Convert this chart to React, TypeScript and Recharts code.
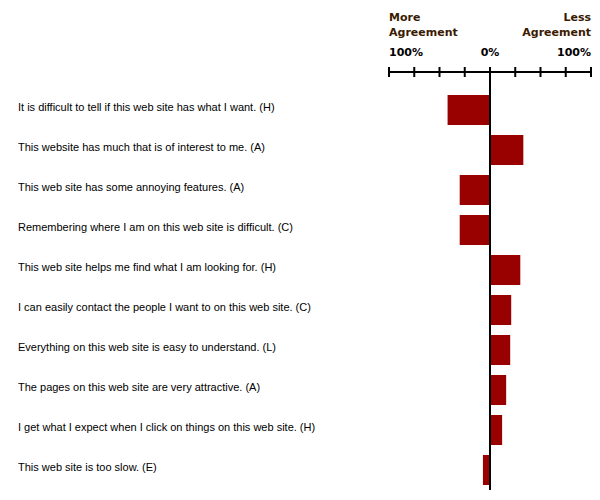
import { Bar, BarChart, ReferenceLine, XAxis, YAxis } from "recharts";

const statements = [
  "It is difficult to tell if this web site has what I want. (H)",
  "This website has much that is of interest to me. (A)",
  "This web site has some annoying features. (A)",
  "Remembering where I am on this web site is difficult. (C)",
  "This web site helps me find what I am looking for. (H)",
  "I can easily contact the people I want to on this web site. (C)",
  "Everything on this web site is easy to understand. (L)",
  "The pages on this web site are very attractive. (A)",
  "I get what I expect when I click on things on this web site. (H)",
  "This web site is too slow. (E)",
];

// negative = more agreement, positive = less agreement
const scores = [-42, 33, -30, -30, 30, 21, 20, 16, 12, -7];

const axisTicks = [-100, -75, -50, -25, 0, 25, 50, 75, 100];
const tickLabels: Record<number, string> = { [-100]: "100%", 0: "0%", 100: "100%" };

const data = statements.map((label, i) => ({ label, value: scores[i] }));

const boldFont = "'DejaVu Sans', sans-serif";

function TopTick(props: any) {
  const { x, y, payload } = props;
  const v = payload.value as number;
  const label = tickLabels[v];
  const anchor = v < 0 ? "start" : v > 0 ? "end" : "middle";
  return (
    <g>
      <line x1={x} x2={x} y1={y - 5} y2={y + 5} stroke="#000" strokeWidth={2} />
      {label && (
        <text x={x} y={y - 16} textAnchor={anchor} fontFamily={boldFont} fontWeight="bold" fontSize={11} fill="#000">
          {label}
        </text>
      )}
      {v === -100 && (
        <text x={x} textAnchor="start" fontFamily={boldFont} fontWeight="bold" fontSize={11} fill="#3a1a00">
          <tspan x={x} y={y - 51}>More</tspan>
          <tspan x={x} y={y - 36}>Agreement</tspan>
        </text>
      )}
      {v === 100 && (
        <text x={x} textAnchor="end" fontFamily={boldFont} fontWeight="bold" fontSize={11} fill="#3a1a00">
          <tspan x={x} y={y - 51}>Less</tspan>
          <tspan x={x} y={y - 36}>Agreement</tspan>
        </text>
      )}
    </g>
  );
}

function StatementTick(props: any) {
  const { y, payload } = props;
  return (
    <text x={18} y={y + 1} textAnchor="start" fontFamily="'Liberation Sans', Arial, sans-serif" fontSize={11} fill="#000">
      {payload.value}
    </text>
  );
}

export default function App() {
  return (
    <div style={{ position: "absolute", left: 0, top: 0, width: 600, height: 500, background: "#fff" }}>
      <BarChart
        width={600}
        height={500}
        data={data}
        layout="vertical"
        margin={{ top: 0, right: 9, bottom: 10, left: 18 }}
      >
        <XAxis
          type="number"
          orientation="top"
          domain={[-100, 100]}
          ticks={axisTicks}
          interval={0}
          height={72}
          tickSize={0}
          tickMargin={0}
          tickLine={false}
          axisLine={{ stroke: "#000", strokeWidth: 2 }}
          tick={<TopTick />}
        />
        <YAxis
          type="category"
          dataKey="label"
          width={371}
          interval={0}
          tickLine={false}
          axisLine={false}
          padding={{ top: 18, bottom: 0 }}
          tick={<StatementTick />}
        />
        <Bar dataKey="value" fill="#990000" barSize={30} isAnimationActive={false} />
        <ReferenceLine x={0} stroke="#000" strokeWidth={2} />
      </BarChart>
    </div>
  );
}
